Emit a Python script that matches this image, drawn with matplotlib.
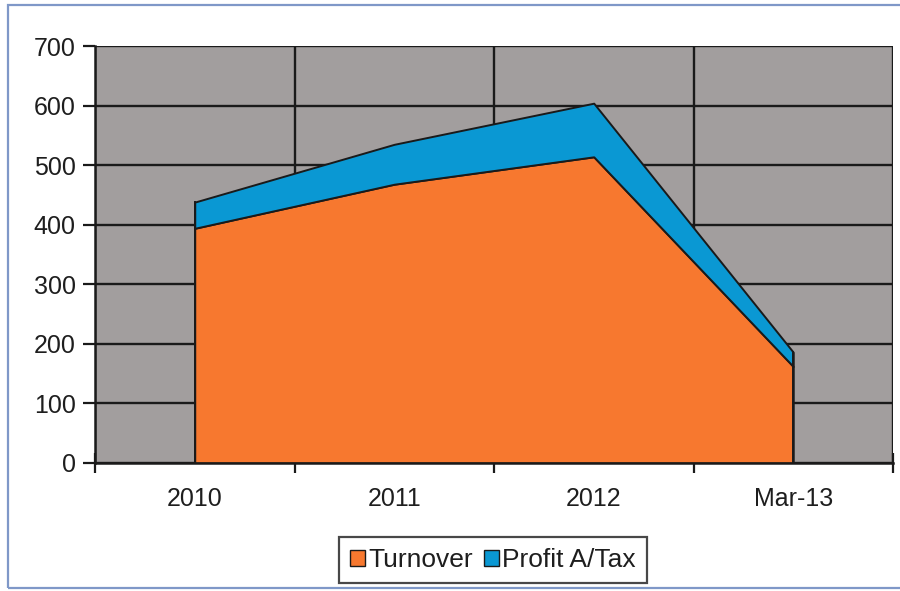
import matplotlib
matplotlib.use("Agg")
import matplotlib.pyplot as plt
from matplotlib.patches import Rectangle, Patch
import numpy as np

plt.rcParams['font.family'] = ['Liberation Sans', 'DejaVu Sans']

categories = ["2010", "2011", "2012", "Mar-13"]
turnover = [394, 468, 514, 162]
profit_after_tax = [44, 67, 90, 24]
y_ticks = [0, 100, 200, 300, 400, 500, 600, 700]

orange = "#F7782F"
blue = "#0A98D3"
plot_bg = "#A29E9E"
ink = "#1a1a1a"
text_color = "#1e1e1e"

fig = plt.figure(figsize=(9.0, 5.91), dpi=100)
fig.patch.set_facecolor("white")

# thin outer frame around the chart
fig.add_artist(Rectangle((8 / 900, 3 / 591), 1.05, 583 / 591, transform=fig.transFigure,
                         fill=False, edgecolor="#7F98C8", linewidth=1.6))

ax = fig.add_axes([95 / 900, 128 / 591, 798 / 900, 417 / 591])
ax.set_facecolor(plot_bg)

x = np.arange(len(categories)) + 0.5
ax.stackplot(x, turnover, profit_after_tax, colors=[orange, blue],
             edgecolor=ink, linewidth=1.4, zorder=3)
# vertical edges of the stacked area
top = np.array(turnover) + np.array(profit_after_tax)
ax.plot([x[0], x[0]], [0, top[0]], color=ink, lw=1.4, zorder=4)
ax.plot([x[-1], x[-1]], [0, top[-1]], color=ink, lw=1.4, zorder=4)

ax.set_xlim(0, len(categories))
ax.set_ylim(0, 700)

ax.set_yticks(y_ticks)
ax.set_yticklabels([str(v) for v in y_ticks], fontsize=18, color=text_color)
ax.set_xticks(np.arange(len(categories) + 1))
ax.set_xticklabels([])
ax.set_xticks(x, minor=True)
ax.set_xticklabels(categories, minor=True, fontsize=18, color=text_color)

ax.tick_params(axis="y", direction="out", length=9, width=1.6, pad=5, color=ink)
ax.tick_params(axis="x", which="major", direction="inout", length=14, width=1.6, color=ink)
ax.tick_params(axis="x", which="minor", length=0, pad=17)

ax.grid(True, which="major", color=ink, linewidth=1.7, zorder=1)
ax.set_axisbelow(True)

for side in ("top", "right"):
    ax.spines[side].set_visible(False)
for side in ("left", "bottom"):
    ax.spines[side].set_color(ink)
    ax.spines[side].set_linewidth(1.8)
    ax.spines[side].set_zorder(5)

handles = [Patch(facecolor=orange, edgecolor=ink, linewidth=1.0, label="Turnover"),
           Patch(facecolor=blue, edgecolor=ink, linewidth=1.0, label="Profit A/Tax")]
leg = fig.legend(handles=handles, loc="center", bbox_to_anchor=(493 / 900, 1 - 560 / 591),
                 ncol=2, fontsize=19, frameon=True, fancybox=False,
                 handlelength=0.57, handleheight=0.57, handletextpad=0.12,
                 columnspacing=0.42, borderpad=0.42, borderaxespad=0)
leg.get_frame().set_edgecolor(ink)
leg.get_frame().set_linewidth(1.6)
for t in leg.get_texts():
    t.set_color(text_color)

fig.savefig("out.png", dpi=100)
